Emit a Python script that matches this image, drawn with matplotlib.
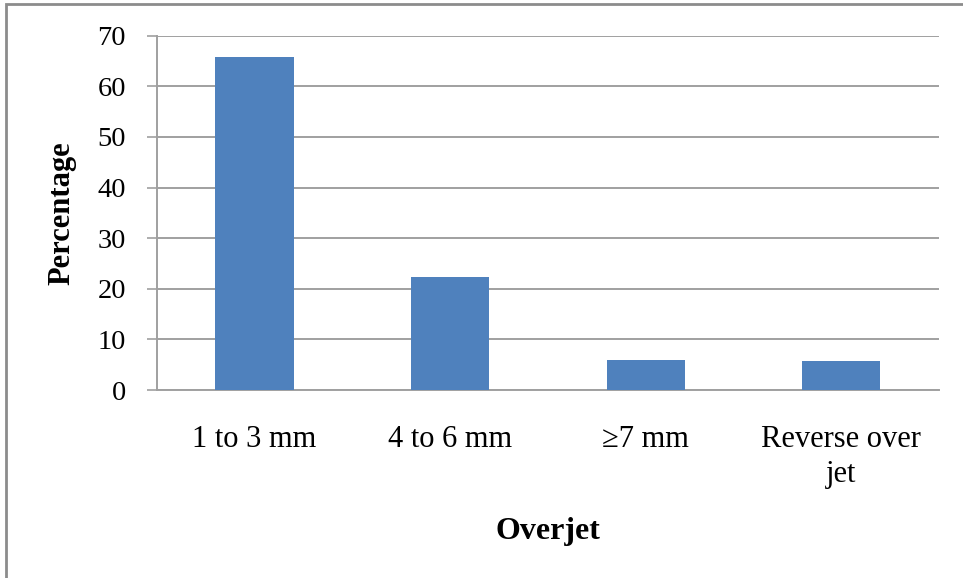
import matplotlib.pyplot as plt
from matplotlib.patches import Rectangle

# Overjet distribution (% of participants)
categories = ['1 to 3 mm', '4 to 6 mm', '\u22657 mm', 'Reverse over\njet']
percentages = [65.7, 22.3, 6.0, 5.8]
y_ticks = [0, 10, 20, 30, 40, 50, 60, 70]

plt.rcParams['font.family'] = ['Liberation Serif', 'DejaVu Serif']

fig = plt.figure(figsize=(9.63, 5.78), dpi=100)
ax = fig.add_axes([156.7 / 963, 1 - 390 / 578, (939 - 156.7) / 963, (390 - 35.7) / 578])

grid_col = '#a0a0a0'
positions = range(len(categories))
ax.bar(positions, percentages, width=0.4, color='#4f81bd', zorder=3)

ax.set_xlim(-0.5, len(categories) - 0.5)
ax.set_ylim(0, 70)
ax.set_yticks(y_ticks)
ax.set_xticks(list(positions))
ax.set_xticklabels(categories, fontsize=22, linespacing=1.3)
ax.yaxis.grid(True, color=grid_col, linewidth=1.4, zorder=0)

ax.tick_params(axis='y', direction='out', length=7.2, width=1.2, color=grid_col,
               labelsize=20.5, pad=15)
ax.tick_params(axis='x', length=0, pad=25)

for side in ['top', 'right']:
    ax.spines[side].set_visible(False)
ax.spines['left'].set_color(grid_col)
ax.spines['left'].set_linewidth(1.4)
ax.spines['bottom'].set_color(grid_col)
ax.spines['bottom'].set_linewidth(1.4)

ax.set_ylabel('Percentage', fontsize=22, fontweight='bold', labelpad=15)
ax.set_xlabel('Overjet', fontsize=23, fontweight='bold', labelpad=20)

# outer frame of the chart area
fig.patches.append(Rectangle((6 / 963, -0.1), 1.2, 1 - 4 / 578 + 0.1,
                             transform=fig.transFigure, fill=False,
                             edgecolor='#8c8c8c', linewidth=2))

fig.savefig('out.png', dpi=100)
